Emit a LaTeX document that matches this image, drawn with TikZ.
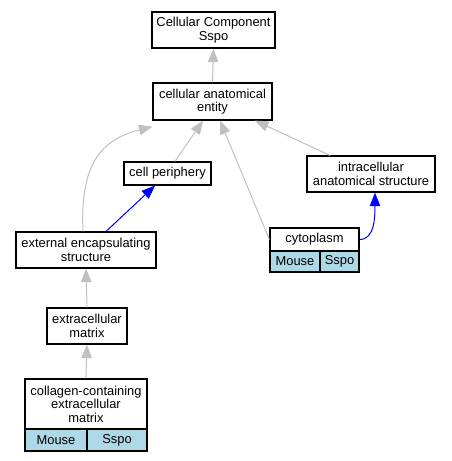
\documentclass[tikz,border=0pt]{standalone}
\usepackage{fontspec}
\setmainfont{Liberation Sans}
\usetikzlibrary{arrows.meta}
\definecolor{edgegray}{RGB}{192,192,192}
\definecolor{lblue}{RGB}{173,216,230}
\begin{document}
\begin{tikzpicture}[x=1pt,y=-1pt,
  box/.style={draw=black, line width=1.2pt, inner sep=0pt, align=center, font=\fontsize{12.9}{13.4}\selectfont, fill=white},
  cell/.style={box, fill=lblue},
  isa/.style={draw=edgegray, line width=1pt, -{Triangle[length=13.5pt,width=10.5pt]}},
  rel/.style={draw=blue, line width=1pt, -{Triangle[length=13.5pt,width=10.5pt]}},
]
\path[use as bounding box] (0,0) rectangle (451,461);
% nodes
\node[box, minimum width=123pt, minimum height=36pt] (ccs) at (213.5,30) {Cellular Component\\Sspo};
\node[box, minimum width=119pt, minimum height=37pt] (cae) at (212.5,101.5) {cellular anatomical\\entity};
\node[box, minimum width=87pt, minimum height=23pt] (cp) at (167.5,173.5) {cell periphery};
\node[box, minimum width=128pt, minimum height=36pt] (ias) at (371,174) {intracellular\\anatomical structure};
\node[box, minimum width=140pt, minimum height=36pt] (ees) at (86,250) {external encapsulating\\structure};
\node[box, minimum width=89pt, minimum height=23pt] (cyt) at (314.5,239.5) {cytoplasm};
\node[cell, minimum width=50pt, minimum height=21pt] (cytm) at (295,261.5) {Mouse};
\node[cell, minimum width=39pt, minimum height=21pt] (cyts) at (339.5,261.5) {Sspo};
\node[box, minimum width=80pt, minimum height=36pt] (ecm) at (87,326) {extracellular\\matrix};
\node[box, minimum width=122pt, minimum height=50pt] (col) at (86,404) {collagen-containing\\extracellular\\matrix};
\node[cell, minimum width=62pt, minimum height=22pt] (colm) at (56,440) {Mouse};
\node[cell, minimum width=60pt, minimum height=22pt] (cols) at (117,440) {Sspo};
% edges
\draw[isa] (cae.north) -- (ccs.south);
\draw[isa] ([xshift=7.5pt]cp.north) -- ([xshift=-9.5pt]cae.south);
\draw[isa] ([xshift=-3pt]ees.north) .. controls (80,165) and (100,140) .. ([yshift=-6pt]cae.south west);
\draw[rel] ([xshift=20pt]ees.north) -- ([xshift=-12.5pt]cp.south);
\draw[isa] (cyt.west) -- ([xshift=7.5pt]cae.south);
\draw[isa] ([xshift=-41pt]ias.north) -- ([xshift=42.5pt]cae.south);
\draw[rel] (cyt.east) .. controls +(15,0) and +(0,25) .. ([xshift=4pt]ias.south);
\draw[isa] (ecm.north) -- (ees.south);
\draw[isa] (col.north) -- (ecm.south);
\end{tikzpicture}
\end{document}
